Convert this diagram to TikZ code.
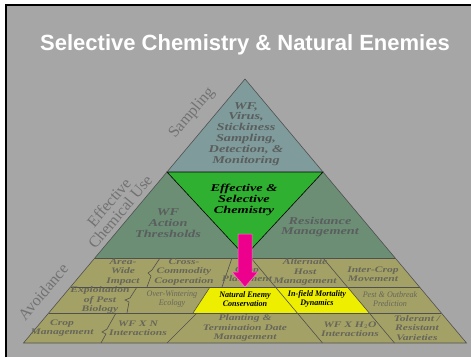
\documentclass[tikz,border=0pt]{standalone}
\usepackage{fontspec}
\setmainfont{Liberation Serif}
\newfontfamily\titlefont{Liberation Sans}
\newfontfamily\wideserif{Liberation Serif}[FakeStretch=1.36]
\newfontfamily\narrowserif{Liberation Serif}[FakeStretch=0.95]
\usetikzlibrary{calc,positioning}

\definecolor{slidegray}{HTML}{A6A6A6}
\definecolor{topgray}{HTML}{7F9B9B}
\definecolor{sidegreen}{HTML}{6B8E75}
\definecolor{chemgreen}{HTML}{30B030}
\definecolor{olivecell}{HTML}{A4A166}
\definecolor{cellyellow}{HTML}{EEEE00}
\definecolor{textgray}{HTML}{5A5E5E}
\definecolor{celltext}{HTML}{66665A}
\definecolor{edgetext}{HTML}{727272}
\definecolor{linegray}{HTML}{505050}

\begin{document}
\begin{tikzpicture}[x=1pt,y=-1pt,
	edge/.style={linegray,line width=0.6},
	sidelabel/.style={edgetext,rotate=50,align=center,inner sep=0pt,font=\fontsize{16}{14.5}\selectfont},
	biglabel/.style={textgray,align=center,inner sep=0pt,font=\wideserif\bfseries\itshape\fontsize{10.5}{10.9}\selectfont},
	cell/.style={celltext,align=center,inner sep=0pt,font=\wideserif\bfseries\itshape\fontsize{8.5}{9.4}\selectfont},
	smallcell/.style={celltext,align=center,inner sep=0pt,font=\narrowserif\itshape\fontsize{8.5}{9.4}\selectfont},
	yellowcell/.style={black,align=center,inner sep=0pt,font=\narrowserif\bfseries\itshape\fontsize{8.5}{9.4}\selectfont}]
	\useasboundingbox (0,0) rectangle (471,357);
	\fill[white] (0,0) rectangle (471,357);
	\fill[slidegray] (6,5) rectangle (471,357);
	\draw[black,line width=1.3] (6,357) -- (6,5) -- (471,5);
	\coordinate (APEX) at (245,79);
	\coordinate (TL) at (167,172);
	\coordinate (TR) at (323,172);
	\coordinate (TIP) at (245,256);
	\coordinate (ML) at (94.8,258);
	\coordinate (MR) at (395.2,258);
	\coordinate (R1L) at (70.5,287);
	\coordinate (R1R) at (419.5,287);
	\coordinate (R2L) at (48.7,313);
	\coordinate (R2R) at (441.3,313);
	\coordinate (BL) at (23.5,343);
	\coordinate (BR) at (466.5,343);
	% pyramid bands
	\fill[olivecell] (ML) -- (MR) -- (BR) -- (BL) -- cycle;
	\fill[sidegreen] (TL) -- (TR) -- (MR) -- (ML) -- cycle;
	\fill[topgray] (APEX) -- (TR) -- (TL) -- cycle;
	\fill[cellyellow] (210,287) -- (347.3,287) -- (369,313) -- (193,313) -- cycle;
	\fill[chemgreen] (TL) -- (TR) -- (TIP) -- cycle;
	\draw[black,line width=0.6] (TL) -- (TR) -- (TIP) -- cycle;
	\draw[edge] (APEX) -- (BR) -- (BL) -- cycle;
	\draw[edge] (ML) -- (MR);
	\draw[edge] (R1L) -- (R1R);
	\draw[edge] (R2L) -- (R2R);
	% cell borders
	\draw[edge] (160,258) -- (152,270) -- (148,273) -- (151,276) -- (147,287);
	\draw[edge] (232,258) -- (222,287);
	\draw[edge] (251,258) -- (322.5,343);
	\draw[edge] (323,258) -- (394.5,343);
	\draw[edge] (137,287) -- (130,298) -- (125,300) -- (129,302) -- (127,313);
	\draw[edge] (210,287) -- (193,313);
	\draw[edge] (116,313) -- (107,329) -- (102,332) -- (106,334) -- (101,343);
	\draw[edge] (197,313) -- (167,343);
	% title and side labels
	\node[white,font=\titlefont\bfseries\fontsize{22}{24}\selectfont] (title) at (245,45) {Selective Chemistry \& Natural Enemies};
	\node[sidelabel] (sampling) at (192,113) {Sampling};
	\node[sidelabel] (chemuse) at (114.5,207) {Effective\\Chemical Use};
	\node[sidelabel] (avoidance) at (43,292) {Avoidance};
	% upper blocks
	\node[biglabel] (monitoring) at (246,134) {WF,\\Virus,\\Stickiness\\Sampling,\\Detection, \&\\Monitoring};
	\node[biglabel] (thresholds) at (168,223) {WF\\Action\\Thresholds};
	\node[biglabel] (resistance) at (320,227) {Resistance\\Management};
	\node[biglabel,black] (chemistry) at (244,200) {Effective \&\\Selective\\Chemistry};
	% first row
	\node[cell] (areawide) at (123,272) {Area-\\Wide\\Impact};
	\node[cell] (crosscomm) at (184,272) {Cross-\\Commodity\\Cooperation};
	\node[cell] (placement) at (247,274) {Crop\\Placement};
	\node[cell] (alternate) at (305,272) {Alternate\\Host\\Management};
	\node[cell] (intercrop) at (373,274) {Inter-Crop\\Movement};
	% second row
	\node[cell] (exploit) at (100,300) {Exploitation\\of Pest\\Biology};
	\node[smallcell] (overwinter) at (172,299) {Over-Wintering\\Ecology};
	\node[yellowcell] (natenemy) at (245,299) {Natural Enemy\\Conservation};
	\node[yellowcell] (infield) at (317,299) {In-field Mortality\\Dynamics};
	\node[smallcell] (outbreak) at (390,299) {Pest \& Outbreak\\Prediction};
	% third row
	\node[cell] (cropmgmt) at (62,328) {Crop\\Management};
	\node[cell] (wfxn) at (138,328) {WF X N\\Interactions};
	\node[cell] (planting) at (245,328) {Planting \&\\Termination Date\\Management};
	\node[cell] (wfxwater) at (350,329) {WF X H$_2$O\\Interactions};
	\node[cell] (tolerant) at (417,328) {Tolerant /\\Resistant\\Varieties};
	% block arrow
	\fill[magenta,draw=magenta!50!white,line width=0.5] (238,234) -- (252,234) -- (252,272) -- (258,272) -- (245,287) -- (232,272) -- (238,272) -- cycle;
\end{tikzpicture}
\end{document}
